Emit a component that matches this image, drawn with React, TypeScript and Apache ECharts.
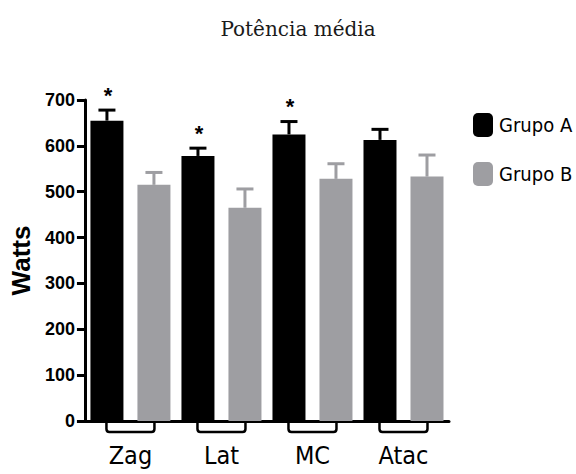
import React, { useEffect, useRef } from "react";
import * as echarts from "echarts";

// Mean power per movement, two groups, with one-sided SD bars
const categories = ["Zag", "Lat", "MC", "Atac"];
const grupoA = [655, 578, 625, 613];
const grupoAErr = [23, 17, 28, 23];
const grupoB = [515, 465, 528, 533];
const grupoBErr = [27, 41, 33, 47];
// significance marks over Grupo A
const grupoASig = [1, 1, 1, 0];
const seriesNames = ["Grupo A", "Grupo B"];

const BLACK = "#000000";
const GRAY = "#9e9ea2";
const BAR_W = 33;
const BAR_GAP = 14;
const NARROW = '"DejaVu Sans Condensed", "Liberation Sans Narrow", "Arial Narrow", Roboto, sans-serif';
const SANS = '"Liberation Sans", Arial, sans-serif';

export default function App() {
  const ref = useRef<HTMLDivElement>(null);

  useEffect(() => {
    if (!ref.current) return;
    const chart = echarts.init(ref.current, undefined, { renderer: "svg" });

    const errData: number[][] = [];
    categories.forEach((_, i) => {
      errData.push([i, grupoA[i], grupoAErr[i], -1, grupoASig[i]]);
      errData.push([i, grupoB[i], grupoBErr[i], 1, 0]);
    });
    const bracketData = categories.map((_, i) => [i, 0]);

    const offset = (BAR_W + BAR_GAP) / 2;

    chart.setOption({
      animation: false,
      backgroundColor: "#ffffff",
      title: {
        text: "Potência média",
        left: 293,
        textAlign: "center",
        top: 14,
        textStyle: {
          fontFamily: '"DejaVu Serif", "Liberation Serif", serif',
          fontSize: 20,
          fontWeight: "normal",
          color: "#1a1a1a",
        },
      },
      legend: {
        data: seriesNames,
        orient: "vertical",
        left: 468,
        top: 108,
        itemWidth: 20,
        itemHeight: 24,
        itemGap: 25,
        icon: "roundRect",
        textStyle: {
          fontFamily: NARROW,
          fontSize: 20,
          color: "#000",
          padding: [0, 0, 0, 1],
        },
      },
      grid: { left: 76, right: 127, top: 100, bottom: 53, containLabel: false },
      xAxis: {
        type: "category",
        data: categories,
        axisLine: { lineStyle: { color: BLACK, width: 3 } },
        axisTick: { show: false },
        axisLabel: {
          margin: 22,
          fontFamily: NARROW,
          fontSize: 25,
          color: "#000",
        },
      },
      yAxis: {
        type: "value",
        min: 0,
        max: 700,
        interval: 100,
        name: "Watts",
        nameLocation: "middle",
        nameRotate: 90,
        nameGap: 44,
        nameTextStyle: {
          fontFamily: SANS,
          fontSize: 26,
          fontWeight: "bold",
          color: "#000",
        },
        splitLine: { show: false },
        axisLine: { show: true, lineStyle: { color: BLACK, width: 3 } },
        axisTick: { show: true, length: 8, lineStyle: { color: BLACK, width: 3 } },
        axisLabel: {
          margin: 10,
          fontFamily: SANS,
          fontSize: 18,
          fontWeight: "bold",
          color: "#000",
        },
      },
      series: [
        {
          name: seriesNames[0],
          type: "bar",
          data: grupoA,
          barWidth: BAR_W,
          barGap: `${(BAR_GAP / BAR_W) * 100}%`,
          itemStyle: { color: BLACK },
        },
        {
          name: seriesNames[1],
          type: "bar",
          data: grupoB,
          barWidth: BAR_W,
          itemStyle: { color: GRAY },
        },
        {
          name: "erros",
          type: "custom",
          data: errData,
          encode: { x: 0, y: 1 },
          z: 5,
          silent: true,
          renderItem: (params: any, api: any) => {
            const cat = api.value(0);
            const mean = api.value(1);
            const err = api.value(2);
            const side = api.value(3);
            const sig = api.value(4);
            const base = api.coord([cat, mean]);
            const top = api.coord([cat, mean + err]);
            const x = base[0] + side * offset;
            const color = side < 0 ? BLACK : GRAY;
            const children: any[] = [
              {
                type: "line",
                shape: { x1: x, y1: base[1], x2: x, y2: top[1] },
                style: { stroke: color, lineWidth: 3 },
              },
              {
                type: "line",
                shape: { x1: x - 8.5, y1: top[1], x2: x + 8.5, y2: top[1] },
                style: { stroke: color, lineWidth: 3 },
              },
            ];
            if (sig) {
              children.push({
                type: "text",
                style: {
                  text: "*",
                  x: x + 1,
                  y: top[1] - 15,
                  align: "center",
                  verticalAlign: "middle",
                  fontFamily: SANS,
                  fontWeight: "bold",
                  fontSize: 22,
                  fill: "#000",
                },
              });
            }
            return { type: "group", children };
          },
        },
        {
          name: "colchetes",
          type: "custom",
          data: bracketData,
          encode: { x: 0, y: 1 },
          clip: false,
          silent: true,
          z: 1,
          renderItem: (params: any, api: any) => {
            const p = api.coord([api.value(0), api.value(1)]);
            const x1 = p[0] - 24;
            const x2 = p[0] + 24;
            const y0 = p[1];
            const y1 = p[1] + 11;
            const r = 3;
            const d =
              `M ${x1} ${y0} L ${x1} ${y1 - r} Q ${x1} ${y1} ${x1 + r} ${y1} ` +
              `L ${x2 - r} ${y1} Q ${x2} ${y1} ${x2} ${y1 - r} L ${x2} ${y0}`;
            return {
              type: "path",
              shape: { pathData: d },
              style: { fill: "none", stroke: BLACK, lineWidth: 2.5 },
            };
          },
        },
      ],
    });

    return () => chart.dispose();
  }, []);

  return (
    <div
      ref={ref}
      style={{ position: "fixed", left: 0, top: 0, width: 576, height: 474 }}
    />
  );
}
